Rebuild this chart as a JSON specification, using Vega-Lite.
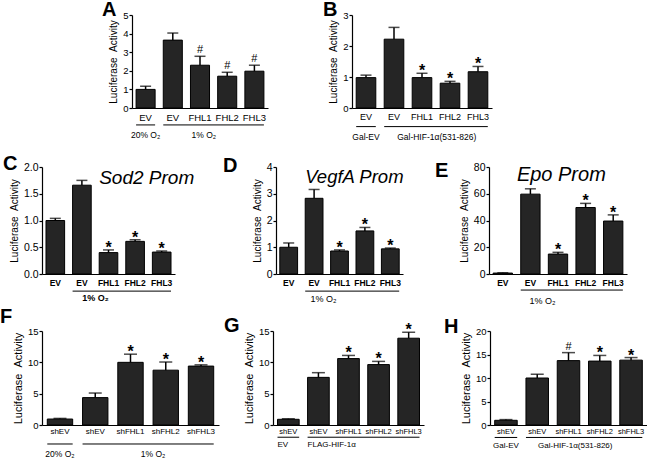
{
"$schema": "https://vega.github.io/schema/vega-lite/v6.json",
"padding": 0,
"background": "white",
"config": {
  "font": "Liberation Sans",
  "view": {"stroke": null},
  "axis": {"domainColor": "#000", "tickColor": "#000", "labelColor": "#000", "titleColor": "#000", "grid": false, "titleFontWeight": "normal", "domainWidth": 1.2, "tickWidth": 1.2},
  "axisX": {"ticks": false, "tickSize": 0, "labelAngle": 0, "labelPadding": 4, "title": null},
  "axisY": {"tickSize": 3, "labelPadding": 1, "titleFontSize": 10, "labelFontSize": 9.5, "titlePadding": 4, "labelOverlap": false},
  "title": {"anchor": "start", "frame": "group", "fontSize": 20, "fontWeight": "bold", "baseline": "alphabetic", "offset": 0, "color": "#000"},
  "bar": {"fill": "#252525", "stroke": "#000", "strokeWidth": 1},
  "rule": {"color": "#000"},
  "text": {"color": "#000"}
},
"datasets": {
  "A": [
    {"kind": "bar", "cat": "EV_a", "value": 1.0, "err": 1.17, "sig": ""},
    {"kind": "bar", "cat": "EV_b", "value": 3.65, "err": 4.03, "sig": ""},
    {"kind": "bar", "cat": "FHL1", "value": 2.3, "err": 2.78, "sig": "#"},
    {"kind": "bar", "cat": "FHL2", "value": 1.71, "err": 1.92, "sig": "#"},
    {"kind": "bar", "cat": "FHL3", "value": 1.98, "err": 2.3, "sig": "#"},
    {"kind": "line", "from": "EV_a", "to": "EV_a"},
    {"kind": "line", "from": "EV_b", "to": "FHL3"},
    {"kind": "label", "at": "EV_a", "label": "20% O₂"},
    {"kind": "label2", "at": "FHL1", "label": "1% O₂"}
  ],
  "B": [
    {"kind": "bar", "cat": "EV_a", "value": 0.98, "err": 1.06, "sig": ""},
    {"kind": "bar", "cat": "EV_b", "value": 2.22, "err": 2.6, "sig": ""},
    {"kind": "bar", "cat": "FHL1", "value": 0.98, "err": 1.12, "sig": "*"},
    {"kind": "bar", "cat": "FHL2", "value": 0.8, "err": 0.86, "sig": "*"},
    {"kind": "bar", "cat": "FHL3", "value": 1.17, "err": 1.34, "sig": "*"},
    {"kind": "line", "from": "EV_a", "to": "EV_a"},
    {"kind": "line", "from": "EV_b", "to": "FHL3"},
    {"kind": "label", "at": "EV_a", "label": "Gal-EV"},
    {"kind": "label2", "at": "FHL1", "label": "Gal-HIF-1α(531-826)"}
  ],
  "C": [
    {"kind": "bar", "cat": "EV_a", "value": 1.0, "err": 1.04, "sig": ""},
    {"kind": "bar", "cat": "EV_b", "value": 1.66, "err": 1.75, "sig": ""},
    {"kind": "bar", "cat": "FHL1", "value": 0.4, "err": 0.45, "sig": "*"},
    {"kind": "bar", "cat": "FHL2", "value": 0.61, "err": 0.64, "sig": "*"},
    {"kind": "bar", "cat": "FHL3", "value": 0.41, "err": 0.43, "sig": "*"},
    {"kind": "line", "from": "EV_b", "to": "FHL3"},
    {"kind": "label2", "at": "FHL1", "label": "1% O₂"},
    {"kind": "title", "at": "FHL1", "label": "Sod2 Prom"}
  ],
  "D": [
    {"kind": "bar", "cat": "EV_a", "value": 1.0, "err": 1.16, "sig": ""},
    {"kind": "bar", "cat": "EV_b", "value": 2.83, "err": 3.16, "sig": ""},
    {"kind": "bar", "cat": "FHL1", "value": 0.86, "err": 0.9, "sig": "*"},
    {"kind": "bar", "cat": "FHL2", "value": 1.61, "err": 1.74, "sig": "*"},
    {"kind": "bar", "cat": "FHL3", "value": 0.94, "err": 0.97, "sig": "*"},
    {"kind": "line", "from": "EV_b", "to": "FHL3"},
    {"kind": "label2", "at": "FHL1", "label": "1% O₂"},
    {"kind": "title", "at": "EV_b", "label": "VegfA Prom"}
  ],
  "E": [
    {"kind": "bar", "cat": "EV_a", "value": 0.7, "err": 0.9, "sig": ""},
    {"kind": "bar", "cat": "EV_b", "value": 59.7, "err": 63.7, "sig": ""},
    {"kind": "bar", "cat": "FHL1", "value": 14.9, "err": 16.2, "sig": "*"},
    {"kind": "bar", "cat": "FHL2", "value": 49.7, "err": 52.8, "sig": "*"},
    {"kind": "bar", "cat": "FHL3", "value": 39.6, "err": 44.2, "sig": "*"},
    {"kind": "line", "from": "EV_b", "to": "FHL3"},
    {"kind": "label2", "at": "FHL1", "label": "1% O₂"},
    {"kind": "title", "at": "EV_b", "label": "Epo Prom"}
  ],
  "F": [
    {"kind": "bar", "cat": "shEV_a", "value": 0.95, "err": 1.05, "sig": ""},
    {"kind": "bar", "cat": "shEV_b", "value": 4.37, "err": 5.1, "sig": ""},
    {"kind": "bar", "cat": "shFHL1", "value": 10.0, "err": 11.3, "sig": "*"},
    {"kind": "bar", "cat": "shFHL2", "value": 8.75, "err": 10.05, "sig": "*"},
    {"kind": "bar", "cat": "shFHL3", "value": 9.4, "err": 9.6, "sig": "*"},
    {"kind": "line", "from": "shEV_a", "to": "shEV_a"},
    {"kind": "line", "from": "shEV_b", "to": "shFHL3"},
    {"kind": "label", "at": "shEV_a", "label": "20% O₂"},
    {"kind": "label2", "at": "shFHL2", "label": "1% O₂"}
  ],
  "G": [
    {"kind": "bar", "cat": "shEV_a", "value": 0.91, "err": 1.0, "sig": ""},
    {"kind": "bar", "cat": "shEV_b", "value": 7.6, "err": 8.35, "sig": ""},
    {"kind": "bar", "cat": "shFHL1", "value": 10.6, "err": 11.1, "sig": "*"},
    {"kind": "bar", "cat": "shFHL2", "value": 9.64, "err": 10.15, "sig": "*"},
    {"kind": "bar", "cat": "shFHL3", "value": 13.85, "err": 14.8, "sig": "*"},
    {"kind": "line", "from": "shEV_a", "to": "shEV_a"},
    {"kind": "line", "from": "shEV_b", "to": "shFHL3"},
    {"kind": "label", "at": "shEV_a", "label": "EV"},
    {"kind": "label", "at": "shEV_b", "label": "FLAG-HIF-1α"}
  ],
  "H": [
    {"kind": "bar", "cat": "shEV_a", "value": 1.0, "err": 1.15, "sig": ""},
    {"kind": "bar", "cat": "shEV_b", "value": 10.0, "err": 10.8, "sig": ""},
    {"kind": "bar", "cat": "shFHL1", "value": 13.7, "err": 15.4, "sig": "#"},
    {"kind": "bar", "cat": "shFHL2", "value": 13.6, "err": 14.8, "sig": "*"},
    {"kind": "bar", "cat": "shFHL3", "value": 13.8, "err": 14.35, "sig": "*"},
    {"kind": "line", "from": "shEV_a", "to": "shEV_a"},
    {"kind": "line", "from": "shEV_b", "to": "shFHL3"},
    {"kind": "label", "at": "shEV_a", "label": "Gal-EV"},
    {"kind": "label2", "at": "shFHL1", "label": "Gal-HIF-1α(531-826)"}
  ]
},
"spacing": 12,
"vconcat": [
  {
    "spacing": 0, "bounds": "flush",
    "hconcat": [
      {"width": 90, "height": 1, "data": {"name": "A"}, "mark": {"type": "point", "opacity": 0}, "encoding": {}},
      {
        "width": 136, "height": 93,
        "title": {"text": "A", "dx": -30, "dy": 14},
        "data": {"name": "A"},
        "encoding": {
          "x": {"field": "cat", "type": "nominal", "sort": null, "scale": {"domain": ["EV_a", "EV_b", "FHL1", "FHL2", "FHL3"], "paddingInner": 0.3, "paddingOuter": 0.15}, "axis": {"labelExpr": "split(datum.label,'_')[0]", "labelFontSize": 9.5}}
        },
        "layer": [
          {"transform": [{"filter": "datum.kind == 'bar'"}], "mark": {"type": "bar"}, "encoding": {"y": {"field": "value", "type": "quantitative", "scale": {"domain": [0, 5], "nice": false}, "axis": {"values": [0, 1, 2, 3, 4, 5], "title": "Luciferase\u00a0\u00a0Activity"}}}},
          {"transform": [{"filter": "datum.kind == 'bar'"}], "mark": {"type": "rule", "strokeWidth": 1.5}, "encoding": {"y": {"field": "value", "type": "quantitative", "axis": {"values": [0, 1, 2, 3, 4, 5], "title": "Luciferase\u00a0\u00a0Activity"}}, "y2": {"field": "err"}}},
          {"transform": [{"filter": "datum.kind == 'bar'"}], "mark": {"type": "tick", "size": 11, "thickness": 1.5, "color": "#000"}, "encoding": {"y": {"field": "err", "type": "quantitative", "axis": {"values": [0, 1, 2, 3, 4, 5], "title": "Luciferase\u00a0\u00a0Activity"}}}},
          {"transform": [{"filter": "datum.kind == 'bar' && datum.sig == '#'"}], "mark": {"type": "text", "fontSize": 11, "baseline": "alphabetic", "dy": -3}, "encoding": {"y": {"field": "err", "type": "quantitative", "axis": {"values": [0, 1, 2, 3, 4, 5], "title": "Luciferase\u00a0\u00a0Activity"}}, "text": {"field": "sig"}}},
          {"transform": [{"filter": "datum.kind == 'line'"}], "mark": {"type": "rule", "strokeWidth": 1}, "encoding": {"x": {"field": "from", "type": "nominal", "bandPosition": 0}, "x2": {"field": "to", "bandPosition": 1}, "y": {"datum": -0.91, "axis": {"values": [0, 1, 2, 3, 4, 5], "title": "Luciferase\u00a0\u00a0Activity"}}}},
          {"transform": [{"filter": "datum.kind == 'label'"}], "mark": {"type": "text", "fontSize": 8.5, "baseline": "middle"}, "encoding": {"x": {"field": "at", "type": "nominal", "bandPosition": 0.5}, "y": {"datum": -1.45, "axis": {"values": [0, 1, 2, 3, 4, 5], "title": "Luciferase\u00a0\u00a0Activity"}}, "text": {"field": "label"}}},
          {"transform": [{"filter": "datum.kind == 'label2'"}], "mark": {"type": "text", "fontSize": 8.5, "baseline": "middle"}, "encoding": {"x": {"field": "at", "type": "nominal", "bandPosition": 0.7}, "y": {"datum": -1.45, "axis": {"values": [0, 1, 2, 3, 4, 5], "title": "Luciferase\u00a0\u00a0Activity"}}, "text": {"field": "label"}}}
        ]
      },
      {"width": 84, "height": 1, "data": {"name": "A"}, "mark": {"type": "point", "opacity": 0}, "encoding": {}},
      {
        "width": 140, "height": 93,
        "title": {"text": "B", "dx": -29, "dy": 14},
        "data": {"name": "B"},
        "encoding": {
          "x": {"field": "cat", "type": "nominal", "sort": null, "scale": {"domain": ["EV_a", "EV_b", "FHL1", "FHL2", "FHL3"], "paddingInner": 0.3, "paddingOuter": 0.15}, "axis": {"labelExpr": "split(datum.label,'_')[0]", "labelFontSize": 9}}
        },
        "layer": [
          {"transform": [{"filter": "datum.kind == 'bar'"}], "mark": {"type": "bar"}, "encoding": {"y": {"field": "value", "type": "quantitative", "scale": {"domain": [0, 3], "nice": false}, "axis": {"values": [0, 1, 2, 3], "title": "Luciferase\u00a0\u00a0Activity"}}}},
          {"transform": [{"filter": "datum.kind == 'bar'"}], "mark": {"type": "rule", "strokeWidth": 1.5}, "encoding": {"y": {"field": "value", "type": "quantitative", "axis": {"values": [0, 1, 2, 3], "title": "Luciferase\u00a0\u00a0Activity"}}, "y2": {"field": "err"}}},
          {"transform": [{"filter": "datum.kind == 'bar'"}], "mark": {"type": "tick", "size": 11, "thickness": 1.5, "color": "#000"}, "encoding": {"y": {"field": "err", "type": "quantitative", "axis": {"values": [0, 1, 2, 3], "title": "Luciferase\u00a0\u00a0Activity"}}}},
          {"transform": [{"filter": "datum.kind == 'bar' && datum.sig == '*'"}], "mark": {"type": "text", "fontSize": 16, "fontWeight": "bold", "baseline": "alphabetic", "dy": 3}, "encoding": {"y": {"field": "err", "type": "quantitative", "axis": {"values": [0, 1, 2, 3], "title": "Luciferase\u00a0\u00a0Activity"}}, "text": {"field": "sig"}}},
          {"transform": [{"filter": "datum.kind == 'line'"}], "mark": {"type": "rule", "strokeWidth": 1}, "encoding": {"x": {"field": "from", "type": "nominal", "bandPosition": 0}, "x2": {"field": "to", "bandPosition": 1}, "y": {"datum": -0.6, "axis": {"values": [0, 1, 2, 3], "title": "Luciferase\u00a0\u00a0Activity"}}}},
          {"transform": [{"filter": "datum.kind == 'label'"}], "mark": {"type": "text", "fontSize": 8.5, "baseline": "middle"}, "encoding": {"x": {"field": "at", "type": "nominal", "bandPosition": 0.5}, "y": {"datum": -0.94, "axis": {"values": [0, 1, 2, 3], "title": "Luciferase\u00a0\u00a0Activity"}}, "text": {"field": "label"}}},
          {"transform": [{"filter": "datum.kind == 'label2'"}], "mark": {"type": "text", "fontSize": 8.5, "baseline": "middle"}, "encoding": {"x": {"field": "at", "type": "nominal", "bandPosition": 1.25}, "y": {"datum": -0.94, "axis": {"values": [0, 1, 2, 3], "title": "Luciferase\u00a0\u00a0Activity"}}, "text": {"field": "label"}}}
        ]
      }
    ]
  },
  {
    "spacing": 1,
    "vconcat": [
      {
        "spacing": 0, "bounds": "flush",
        "hconcat": [
          {
            "width": 133, "height": 107,
            "title": {"text": "C", "dx": -39, "dy": 16},
            "data": {"name": "C"},
            "encoding": {
              "x": {"field": "cat", "type": "nominal", "sort": null, "scale": {"domain": ["EV_a", "EV_b", "FHL1", "FHL2", "FHL3"], "paddingInner": 0.3, "paddingOuter": 0.15}, "axis": {"labelExpr": "split(datum.label,'_')[0]", "labelFontSize": 8.5, "labelFontWeight": "bold"}}
            },
            "layer": [
              {"transform": [{"filter": "datum.kind == 'bar'"}], "mark": {"type": "bar"}, "encoding": {"y": {"field": "value", "type": "quantitative", "scale": {"domain": [0, 2], "nice": false}, "axis": {"values": [0, 0.5, 1, 1.5, 2], "format": ".1f", "labelFontSize": 10.5, "title": "Luciferase\u00a0\u00a0Activity"}}}},
              {"transform": [{"filter": "datum.kind == 'bar'"}], "mark": {"type": "rule", "strokeWidth": 1.5}, "encoding": {"y": {"field": "value", "type": "quantitative", "axis": {"values": [0, 0.5, 1, 1.5, 2], "format": ".1f", "labelFontSize": 10.5, "title": "Luciferase\u00a0\u00a0Activity"}}, "y2": {"field": "err"}}},
              {"transform": [{"filter": "datum.kind == 'bar'"}], "mark": {"type": "tick", "size": 11, "thickness": 1.5, "color": "#000"}, "encoding": {"y": {"field": "err", "type": "quantitative", "axis": {"values": [0, 0.5, 1, 1.5, 2], "format": ".1f", "labelFontSize": 10.5, "title": "Luciferase\u00a0\u00a0Activity"}}}},
              {"transform": [{"filter": "datum.kind == 'bar' && datum.sig == '*'"}], "mark": {"type": "text", "fontSize": 16, "fontWeight": "bold", "baseline": "alphabetic", "dy": 3}, "encoding": {"y": {"field": "err", "type": "quantitative", "axis": {"values": [0, 0.5, 1, 1.5, 2], "format": ".1f", "labelFontSize": 10.5, "title": "Luciferase\u00a0\u00a0Activity"}}, "text": {"field": "sig"}}},
              {"transform": [{"filter": "datum.kind == 'title'"}], "mark": {"type": "text", "fontSize": 19, "fontStyle": "italic", "align": "left", "baseline": "alphabetic", "dy": 17}, "encoding": {"x": {"field": "at", "type": "nominal", "bandPosition": 0}, "y": {"datum": 2, "axis": {"values": [0, 0.5, 1, 1.5, 2], "format": ".1f", "labelFontSize": 10.5, "title": "Luciferase\u00a0\u00a0Activity"}}, "text": {"field": "label"}}},
              {"transform": [{"filter": "datum.kind == 'line'"}], "mark": {"type": "rule", "strokeWidth": 1}, "encoding": {"x": {"field": "from", "type": "nominal", "bandPosition": 0}, "x2": {"field": "to", "bandPosition": 1}, "y": {"datum": -0.32, "axis": {"values": [0, 0.5, 1, 1.5, 2], "format": ".1f", "labelFontSize": 10.5, "title": "Luciferase\u00a0\u00a0Activity"}}}},
              {"transform": [{"filter": "datum.kind == 'label2'"}], "mark": {"type": "text", "fontSize": 9, "fontWeight": "bold", "baseline": "middle"}, "encoding": {"x": {"field": "at", "type": "nominal", "bandPosition": -0.2}, "y": {"datum": -0.45, "axis": {"values": [0, 0.5, 1, 1.5, 2], "format": ".1f", "labelFontSize": 10.5, "title": "Luciferase\u00a0\u00a0Activity"}}, "text": {"field": "label"}}}
            ]
          },
          {"width": 101, "height": 1, "data": {"name": "C"}, "mark": {"type": "point", "opacity": 0}, "encoding": {}},
          {
            "width": 127, "height": 107,
            "title": {"text": "D", "dx": -53, "dy": 18},
            "data": {"name": "D"},
            "encoding": {
              "x": {"field": "cat", "type": "nominal", "sort": null, "scale": {"domain": ["EV_a", "EV_b", "FHL1", "FHL2", "FHL3"], "paddingInner": 0.3, "paddingOuter": 0.15}, "axis": {"labelExpr": "split(datum.label,'_')[0]", "labelFontSize": 8.5, "labelFontWeight": "bold"}}
            },
            "layer": [
              {"transform": [{"filter": "datum.kind == 'bar'"}], "mark": {"type": "bar"}, "encoding": {"y": {"field": "value", "type": "quantitative", "scale": {"domain": [0, 4], "nice": false}, "axis": {"values": [0, 1, 2, 3, 4], "labelFontSize": 10.5, "title": "Luciferase\u00a0\u00a0Activity"}}}},
              {"transform": [{"filter": "datum.kind == 'bar'"}], "mark": {"type": "rule", "strokeWidth": 1.5}, "encoding": {"y": {"field": "value", "type": "quantitative", "axis": {"values": [0, 1, 2, 3, 4], "labelFontSize": 10.5, "title": "Luciferase\u00a0\u00a0Activity"}}, "y2": {"field": "err"}}},
              {"transform": [{"filter": "datum.kind == 'bar'"}], "mark": {"type": "tick", "size": 11, "thickness": 1.5, "color": "#000"}, "encoding": {"y": {"field": "err", "type": "quantitative", "axis": {"values": [0, 1, 2, 3, 4], "labelFontSize": 10.5, "title": "Luciferase\u00a0\u00a0Activity"}}}},
              {"transform": [{"filter": "datum.kind == 'bar' && datum.sig == '*'"}], "mark": {"type": "text", "fontSize": 16, "fontWeight": "bold", "baseline": "alphabetic", "dy": 3}, "encoding": {"y": {"field": "err", "type": "quantitative", "axis": {"values": [0, 1, 2, 3, 4], "labelFontSize": 10.5, "title": "Luciferase\u00a0\u00a0Activity"}}, "text": {"field": "sig"}}},
              {"transform": [{"filter": "datum.kind == 'title'"}], "mark": {"type": "text", "fontSize": 18.5, "fontStyle": "italic", "align": "left", "baseline": "alphabetic", "dy": 16}, "encoding": {"x": {"field": "at", "type": "nominal", "bandPosition": 0}, "y": {"datum": 4, "axis": {"values": [0, 1, 2, 3, 4], "labelFontSize": 10.5, "title": "Luciferase\u00a0\u00a0Activity"}}, "text": {"field": "label"}}},
              {"transform": [{"filter": "datum.kind == 'line'"}], "mark": {"type": "rule", "strokeWidth": 1}, "encoding": {"x": {"field": "from", "type": "nominal", "bandPosition": 0}, "x2": {"field": "to", "bandPosition": 1}, "y": {"datum": -0.64, "axis": {"values": [0, 1, 2, 3, 4], "labelFontSize": 10.5, "title": "Luciferase\u00a0\u00a0Activity"}}}},
              {"transform": [{"filter": "datum.kind == 'label2'"}], "mark": {"type": "text", "fontSize": 9, "baseline": "middle"}, "encoding": {"x": {"field": "at", "type": "nominal", "bandPosition": -0.4}, "y": {"datum": -0.93, "axis": {"values": [0, 1, 2, 3, 4], "labelFontSize": 10.5, "title": "Luciferase\u00a0\u00a0Activity"}}, "text": {"field": "label"}}}
            ]
          },
          {"width": 86, "height": 1, "data": {"name": "D"}, "mark": {"type": "point", "opacity": 0}, "encoding": {}},
          {
            "width": 138, "height": 107,
            "title": {"text": "E", "dx": -54, "dy": 23},
            "data": {"name": "E"},
            "encoding": {
              "x": {"field": "cat", "type": "nominal", "sort": null, "scale": {"domain": ["EV_a", "EV_b", "FHL1", "FHL2", "FHL3"], "paddingInner": 0.3, "paddingOuter": 0.15}, "axis": {"labelExpr": "split(datum.label,'_')[0]", "labelFontSize": 8.5, "labelFontWeight": "bold"}}
            },
            "layer": [
              {"transform": [{"filter": "datum.kind == 'bar'"}], "mark": {"type": "bar"}, "encoding": {"y": {"field": "value", "type": "quantitative", "scale": {"domain": [0, 80], "nice": false}, "axis": {"values": [0, 20, 40, 60, 80], "labelFontSize": 10.5, "title": "Luciferase\u00a0\u00a0Activity"}}}},
              {"transform": [{"filter": "datum.kind == 'bar'"}], "mark": {"type": "rule", "strokeWidth": 1.5}, "encoding": {"y": {"field": "value", "type": "quantitative", "axis": {"values": [0, 20, 40, 60, 80], "labelFontSize": 10.5, "title": "Luciferase\u00a0\u00a0Activity"}}, "y2": {"field": "err"}}},
              {"transform": [{"filter": "datum.kind == 'bar'"}], "mark": {"type": "tick", "size": 11, "thickness": 1.5, "color": "#000"}, "encoding": {"y": {"field": "err", "type": "quantitative", "axis": {"values": [0, 20, 40, 60, 80], "labelFontSize": 10.5, "title": "Luciferase\u00a0\u00a0Activity"}}}},
              {"transform": [{"filter": "datum.kind == 'bar' && datum.sig == '*'"}], "mark": {"type": "text", "fontSize": 16, "fontWeight": "bold", "baseline": "alphabetic", "dy": 3}, "encoding": {"y": {"field": "err", "type": "quantitative", "axis": {"values": [0, 20, 40, 60, 80], "labelFontSize": 10.5, "title": "Luciferase\u00a0\u00a0Activity"}}, "text": {"field": "sig"}}},
              {"transform": [{"filter": "datum.kind == 'title'"}], "mark": {"type": "text", "fontSize": 20, "fontStyle": "italic", "align": "left", "baseline": "alphabetic", "dy": 14}, "encoding": {"x": {"field": "at", "type": "nominal", "bandPosition": -0.2}, "y": {"datum": 80, "axis": {"values": [0, 20, 40, 60, 80], "labelFontSize": 10.5, "title": "Luciferase\u00a0\u00a0Activity"}}, "text": {"field": "label"}}},
              {"transform": [{"filter": "datum.kind == 'line'"}], "mark": {"type": "rule", "strokeWidth": 1}, "encoding": {"x": {"field": "from", "type": "nominal", "bandPosition": 0}, "x2": {"field": "to", "bandPosition": 1}, "y": {"datum": -12, "axis": {"values": [0, 20, 40, 60, 80], "labelFontSize": 10.5, "title": "Luciferase\u00a0\u00a0Activity"}}}},
              {"transform": [{"filter": "datum.kind == 'label2'"}], "mark": {"type": "text", "fontSize": 9, "baseline": "middle"}, "encoding": {"x": {"field": "at", "type": "nominal", "bandPosition": -0.3}, "y": {"datum": -20, "axis": {"values": [0, 20, 40, 60, 80], "labelFontSize": 10.5, "title": "Luciferase\u00a0\u00a0Activity"}}, "text": {"field": "label"}}}
            ]
          }
        ]
      },
      {
        "spacing": 0, "bounds": "flush",
        "hconcat": [
          {
            "width": 177, "height": 94,
            "title": {"text": "F", "dx": -42, "dy": 5},
            "data": {"name": "F"},
            "encoding": {
              "x": {"field": "cat", "type": "nominal", "sort": null, "scale": {"domain": ["shEV_a", "shEV_b", "shFHL1", "shFHL2", "shFHL3"], "paddingInner": 0.28, "paddingOuter": 0.15}, "axis": {"labelExpr": "split(datum.label,'_')[0]", "labelFontSize": 8, "labelPadding": 2}}
            },
            "layer": [
              {"transform": [{"filter": "datum.kind == 'bar'"}], "mark": {"type": "bar"}, "encoding": {"y": {"field": "value", "type": "quantitative", "scale": {"domain": [0, 15], "nice": false}, "axis": {"values": [0, 5, 10, 15], "titleFontSize": 11, "title": "Luciferase\u00a0\u00a0Activity"}}}},
              {"transform": [{"filter": "datum.kind == 'bar'"}], "mark": {"type": "rule", "strokeWidth": 1.5}, "encoding": {"y": {"field": "value", "type": "quantitative", "axis": {"values": [0, 5, 10, 15], "titleFontSize": 11, "title": "Luciferase\u00a0\u00a0Activity"}}, "y2": {"field": "err"}}},
              {"transform": [{"filter": "datum.kind == 'bar'"}], "mark": {"type": "tick", "size": 13, "thickness": 1.5, "color": "#000"}, "encoding": {"y": {"field": "err", "type": "quantitative", "axis": {"values": [0, 5, 10, 15], "titleFontSize": 11, "title": "Luciferase\u00a0\u00a0Activity"}}}},
              {"transform": [{"filter": "datum.kind == 'bar' && datum.sig == '*'"}], "mark": {"type": "text", "fontSize": 16, "fontWeight": "bold", "baseline": "alphabetic", "dy": 3}, "encoding": {"y": {"field": "err", "type": "quantitative", "axis": {"values": [0, 5, 10, 15], "titleFontSize": 11, "title": "Luciferase\u00a0\u00a0Activity"}}, "text": {"field": "sig"}}},
              {"transform": [{"filter": "datum.kind == 'line'"}], "mark": {"type": "rule", "strokeWidth": 1}, "encoding": {"x": {"field": "from", "type": "nominal", "bandPosition": 0}, "x2": {"field": "to", "bandPosition": 1}, "y": {"datum": -3.03, "axis": {"values": [0, 5, 10, 15], "titleFontSize": 11, "title": "Luciferase\u00a0\u00a0Activity"}}}},
              {"transform": [{"filter": "datum.kind == 'label'"}], "mark": {"type": "text", "fontSize": 8.5, "baseline": "middle"}, "encoding": {"x": {"field": "at", "type": "nominal", "bandPosition": 0.5}, "y": {"datum": -4.6, "axis": {"values": [0, 5, 10, 15], "titleFontSize": 11, "title": "Luciferase\u00a0\u00a0Activity"}}, "text": {"field": "label"}}},
              {"transform": [{"filter": "datum.kind == 'label2'"}], "mark": {"type": "text", "fontSize": 8.5, "baseline": "middle"}, "encoding": {"x": {"field": "at", "type": "nominal", "bandPosition": 0}, "y": {"datum": -4.6, "axis": {"values": [0, 5, 10, 15], "titleFontSize": 11, "title": "Luciferase\u00a0\u00a0Activity"}}, "text": {"field": "label"}}}
            ]
          },
          {"width": 54, "height": 1, "data": {"name": "F"}, "mark": {"type": "point", "opacity": 0}, "encoding": {}},
          {
            "width": 151, "height": 94,
            "title": {"text": "G", "dx": -49, "dy": 18},
            "data": {"name": "G"},
            "encoding": {
              "x": {"field": "cat", "type": "nominal", "sort": null, "scale": {"domain": ["shEV_a", "shEV_b", "shFHL1", "shFHL2", "shFHL3"], "paddingInner": 0.28, "paddingOuter": 0.15}, "axis": {"labelExpr": "split(datum.label,'_')[0]", "labelFontSize": 7.5, "labelPadding": 2}}
            },
            "layer": [
              {"transform": [{"filter": "datum.kind == 'bar'"}], "mark": {"type": "bar"}, "encoding": {"y": {"field": "value", "type": "quantitative", "scale": {"domain": [0, 15], "nice": false}, "axis": {"values": [0, 5, 10, 15], "titleFontSize": 11, "title": "Luciferase\u00a0\u00a0Activity"}}}},
              {"transform": [{"filter": "datum.kind == 'bar'"}], "mark": {"type": "rule", "strokeWidth": 1.5}, "encoding": {"y": {"field": "value", "type": "quantitative", "axis": {"values": [0, 5, 10, 15], "titleFontSize": 11, "title": "Luciferase\u00a0\u00a0Activity"}}, "y2": {"field": "err"}}},
              {"transform": [{"filter": "datum.kind == 'bar'"}], "mark": {"type": "tick", "size": 13, "thickness": 1.5, "color": "#000"}, "encoding": {"y": {"field": "err", "type": "quantitative", "axis": {"values": [0, 5, 10, 15], "titleFontSize": 11, "title": "Luciferase\u00a0\u00a0Activity"}}}},
              {"transform": [{"filter": "datum.kind == 'bar' && datum.sig == '*'"}], "mark": {"type": "text", "fontSize": 16, "fontWeight": "bold", "baseline": "alphabetic", "dy": 3}, "encoding": {"y": {"field": "err", "type": "quantitative", "axis": {"values": [0, 5, 10, 15], "titleFontSize": 11, "title": "Luciferase\u00a0\u00a0Activity"}}, "text": {"field": "sig"}}},
              {"transform": [{"filter": "datum.kind == 'line'"}], "mark": {"type": "rule", "strokeWidth": 1}, "encoding": {"x": {"field": "from", "type": "nominal", "bandPosition": 0}, "x2": {"field": "to", "bandPosition": 1}, "y": {"datum": -1.95, "axis": {"values": [0, 5, 10, 15], "titleFontSize": 11, "title": "Luciferase\u00a0\u00a0Activity"}}}},
              {"transform": [{"filter": "datum.kind == 'label'"}], "mark": {"type": "text", "fontSize": 8, "align": "left", "baseline": "middle"}, "encoding": {"x": {"field": "at", "type": "nominal", "bandPosition": 0}, "y": {"datum": -3.25, "axis": {"values": [0, 5, 10, 15], "titleFontSize": 11, "title": "Luciferase\u00a0\u00a0Activity"}}, "text": {"field": "label"}}}
            ]
          },
          {"width": 66, "height": 1, "data": {"name": "G"}, "mark": {"type": "point", "opacity": 0}, "encoding": {}},
          {
            "width": 157, "height": 94,
            "title": {"text": "H", "dx": -46, "dy": 15},
            "data": {"name": "H"},
            "encoding": {
              "x": {"field": "cat", "type": "nominal", "sort": null, "scale": {"domain": ["shEV_a", "shEV_b", "shFHL1", "shFHL2", "shFHL3"], "paddingInner": 0.28, "paddingOuter": 0.15}, "axis": {"labelExpr": "split(datum.label,'_')[0]", "labelFontSize": 7.5, "labelPadding": 2}}
            },
            "layer": [
              {"transform": [{"filter": "datum.kind == 'bar'"}], "mark": {"type": "bar"}, "encoding": {"y": {"field": "value", "type": "quantitative", "scale": {"domain": [0, 20], "nice": false}, "axis": {"values": [0, 5, 10, 15, 20], "titleFontSize": 11, "title": "Luciferase\u00a0\u00a0Activity"}}}},
              {"transform": [{"filter": "datum.kind == 'bar'"}], "mark": {"type": "rule", "strokeWidth": 1.5}, "encoding": {"y": {"field": "value", "type": "quantitative", "axis": {"values": [0, 5, 10, 15, 20], "titleFontSize": 11, "title": "Luciferase\u00a0\u00a0Activity"}}, "y2": {"field": "err"}}},
              {"transform": [{"filter": "datum.kind == 'bar'"}], "mark": {"type": "tick", "size": 13, "thickness": 1.5, "color": "#000"}, "encoding": {"y": {"field": "err", "type": "quantitative", "axis": {"values": [0, 5, 10, 15, 20], "titleFontSize": 11, "title": "Luciferase\u00a0\u00a0Activity"}}}},
              {"transform": [{"filter": "datum.kind == 'bar' && datum.sig == '#'"}], "mark": {"type": "text", "fontSize": 11, "baseline": "alphabetic", "dy": -3}, "encoding": {"y": {"field": "err", "type": "quantitative", "axis": {"values": [0, 5, 10, 15, 20], "titleFontSize": 11, "title": "Luciferase\u00a0\u00a0Activity"}}, "text": {"field": "sig"}}},
              {"transform": [{"filter": "datum.kind == 'bar' && datum.sig == '*'"}], "mark": {"type": "text", "fontSize": 16, "fontWeight": "bold", "baseline": "alphabetic", "dy": 3}, "encoding": {"y": {"field": "err", "type": "quantitative", "axis": {"values": [0, 5, 10, 15, 20], "titleFontSize": 11, "title": "Luciferase\u00a0\u00a0Activity"}}, "text": {"field": "sig"}}},
              {"transform": [{"filter": "datum.kind == 'line'"}], "mark": {"type": "rule", "strokeWidth": 1}, "encoding": {"x": {"field": "from", "type": "nominal", "bandPosition": 0}, "x2": {"field": "to", "bandPosition": 1}, "y": {"datum": -2.65, "axis": {"values": [0, 5, 10, 15, 20], "titleFontSize": 11, "title": "Luciferase\u00a0\u00a0Activity"}}}},
              {"transform": [{"filter": "datum.kind == 'label'"}], "mark": {"type": "text", "fontSize": 8, "baseline": "middle"}, "encoding": {"x": {"field": "at", "type": "nominal", "bandPosition": 0.5}, "y": {"datum": -4.45, "axis": {"values": [0, 5, 10, 15, 20], "titleFontSize": 11, "title": "Luciferase\u00a0\u00a0Activity"}}, "text": {"field": "label"}}},
              {"transform": [{"filter": "datum.kind == 'label2'"}], "mark": {"type": "text", "fontSize": 8, "baseline": "middle"}, "encoding": {"x": {"field": "at", "type": "nominal", "bandPosition": 0.8}, "y": {"datum": -4.45, "axis": {"values": [0, 5, 10, 15, 20], "titleFontSize": 11, "title": "Luciferase\u00a0\u00a0Activity"}}, "text": {"field": "label"}}}
            ]
          }
        ]
      }
    ]
  }
]
}
